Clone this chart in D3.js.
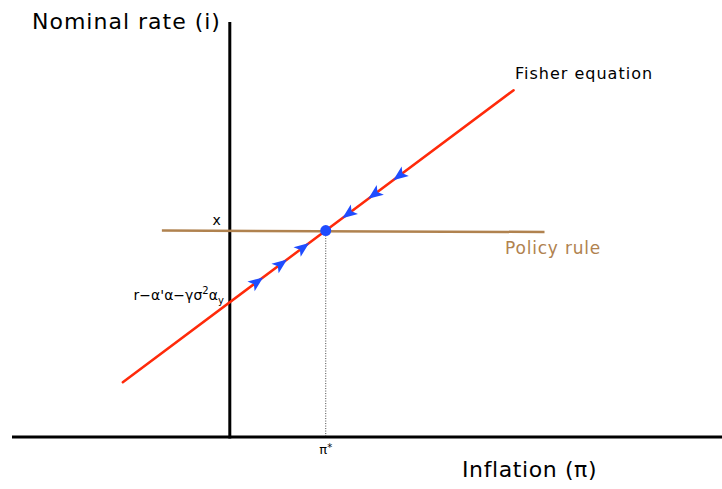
<!DOCTYPE html>
<html>
<head>
<meta charset="utf-8">
<script src="https://cdn.jsdelivr.net/npm/d3@7"></script>
<style>
  body { margin: 0; background: #fff; }
  text { font-family: "DejaVu Sans", sans-serif; }
</style>
</head>
<body>
<div id="chart"></div>
<script>
// conceptual model values (axes cross at pi = 0, i = 0)
var piStar = 1;
var fisherIntercept = 1.88;          // r - a'a - g s^2 a_y
var fisherPi = [-1.115, 2.958];      // ends of the Fisher line
var policyPi = [-0.708, 3.28];       // ends of the policy rule
var policyI = [2.88, 2.86];
var arrowPi = [0.28, 0.53, 0.76, 1.24, 1.51, 1.77];
var xDomain = [-2.27, 5.13];
var yDomain = [0, 5.79];

var width = 722, height = 489;

var svg = d3.select("#chart")
    .append("svg")
    .attr("width", width)
    .attr("height", height)

var x = d3.scaleLinear().domain(xDomain).range([12, 722]);
var y = d3.scaleLinear().domain(yDomain).range([437, 22]);

function fisher(p) { return fisherIntercept + p; }

// dotted drop line from equilibrium
var eqI = fisher(piStar);
svg.append("line")
    .attr("x1", x(piStar)).attr("x2", x(piStar))
    .attr("y1", y(eqI)).attr("y2", y(0))
    .attr("stroke", "#444")
    .attr("stroke-width", 1)
    .attr("stroke-dasharray", "1,1.5")

// axes
svg.append("line")
    .attr("x1", x(xDomain[0])).attr("x2", x(xDomain[1]))
    .attr("y1", y(0)).attr("y2", y(0))
    .attr("stroke", "#000").attr("stroke-width", 3)

svg.append("line")
    .attr("x1", x(0)).attr("x2", x(0))
    .attr("y1", y(yDomain[1])).attr("y2", y(0) + 1.5)
    .attr("stroke", "#000").attr("stroke-width", 3)

// policy rule
svg.append("line")
    .attr("x1", x(policyPi[0])).attr("x2", x(policyPi[1]))
    .attr("y1", y(policyI[0])).attr("y2", y(policyI[1]))
    .attr("stroke", "#b0824f").attr("stroke-width", 2.5)

// Fisher line
svg.append("line")
    .attr("x1", x(fisherPi[0])).attr("x2", x(fisherPi[1]))
    .attr("y1", y(fisher(fisherPi[0]))).attr("y2", y(fisher(fisherPi[1])))
    .attr("stroke", "#ff2a0a").attr("stroke-width", 2.5)
    .attr("stroke-linecap", "round")

// arrows pointing toward the equilibrium
var ang = Math.atan2(y(fisher(1)) - y(fisher(0)), x(1) - x(0)) * 180 / Math.PI;
svg.selectAll(".arrow")
    .data(arrowPi)
    .enter()
    .append("path")
    .attr("class", "arrow")
    .attr("d", "M8,0 L-7,-6 L-3.5,0 L-7,6 Z")
    .attr("fill", "#1f4cff")
    .attr("transform", function(d) {
        var a = d < piStar ? ang : ang + 180;
        return "translate(" + x(d) + "," + y(fisher(d)) + ") rotate(" + a + ")";
    })

// equilibrium point
svg.append("circle")
    .attr("cx", x(piStar)).attr("cy", y(eqI))
    .attr("r", 5.5)
    .attr("fill", "#1f4cff")

// labels
svg.append("text")
    .attr("x", 32).attr("y", 29)
    .attr("font-size", 22)
    .attr("letter-spacing", 1)
    .text("Nominal rate (i)")

svg.append("text")
    .attr("x", 462).attr("y", 477)
    .attr("font-size", 22)
    .attr("letter-spacing", 0.6)
    .text("Inflation (π)")

svg.append("text")
    .attr("x", 515).attr("y", 79)
    .attr("font-size", 16)
    .attr("letter-spacing", 1)
    .text("Fisher equation")

svg.append("text")
    .attr("x", 505).attr("y", 254)
    .attr("font-size", 17)
    .attr("letter-spacing", 0.8)
    .attr("fill", "#b0824f")
    .text("Policy rule")

svg.append("text")
    .attr("x", x(0) - 9).attr("y", y(policyI[0]) - 6)
    .attr("text-anchor", "end")
    .attr("font-size", 14)
    .text("x")

var lab = svg.append("text")
    .attr("x", x(0) - 6).attr("y", 300)
    .attr("text-anchor", "end")
    .attr("font-size", 14)
lab.append("tspan").text("r−α'α−γσ")
lab.append("tspan").attr("dy", -6).attr("font-size", 10).text("2")
lab.append("tspan").attr("dy", 6).text("α")
lab.append("tspan").attr("dy", 4).attr("font-size", 10).text("y")

var ps = svg.append("text")
    .attr("x", x(piStar)).attr("y", y(0) + 17)
    .attr("text-anchor", "middle")
    .attr("font-size", 13)
ps.append("tspan").text("π")
ps.append("tspan").attr("dy", -3).attr("font-size", 10).text("*")
</script>
</body>
</html>
